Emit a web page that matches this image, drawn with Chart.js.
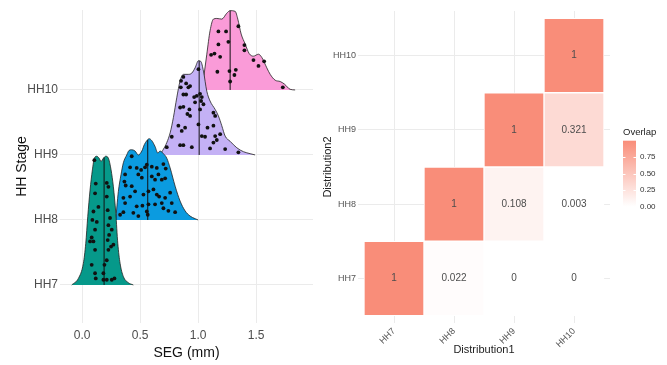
<!DOCTYPE html>
<html><head><meta charset="utf-8">
<script src="https://cdn.jsdelivr.net/npm/chart.js@4"></script>
<style>
html,body{margin:0;padding:0;background:#fff;}
#wrap{position:relative;width:667px;height:365px;overflow:hidden;}
#c1{position:absolute;left:0;top:0;width:320px;height:365px;}
#c2{position:absolute;left:320px;top:0;width:347px;height:365px;}
</style></head><body>
<div id="wrap"><canvas id="c1" width="320" height="365"></canvas><canvas id="c2" width="347" height="365"></canvas></div>
<script>
// ---------------- data ----------------
const stages = ['HH7', 'HH8', 'HH9', 'HH10'];
const segTicks = [0, 0.5, 1.0, 1.5];

// density curves (x in mm, height in ridge units)
const hh7DensX = [-0.089, -0.032, 0.011, 0.032, 0.049, 0.069, 0.089, 0.106, 0.127, 0.147, 0.164, 0.184, 0.204, 0.227, 0.25, 0.27, 0.291, 0.308, 0.328, 0.356, 0.399, 0.442];
const hh7DensH = [0, 0.10, 0.33, 0.64, 1.05, 1.46, 1.77, 1.95, 1.98, 1.95, 1.90, 1.95, 1.98, 1.95, 1.77, 1.51, 1.10, 0.64, 0.33, 0.13, 0.035, 0];
const hh8DensX = [0.29, 0.30, 0.313, 0.336, 0.356, 0.385, 0.405, 0.428, 0.457, 0.485, 0.515, 0.537, 0.558, 0.578, 0.601, 0.629, 0.653, 0.672, 0.701, 0.730, 0.759, 0.802, 0.845, 0.888, 0.931, 0.974, 1.0];
const hh8DensH = [0, 0.20, 0.44, 0.70, 0.88, 1.00, 1.07, 1.08, 1.06, 1.00, 1.06, 1.16, 1.22, 1.25, 1.22, 1.13, 1.03, 1.06, 1.02, 0.95, 0.80, 0.52, 0.29, 0.14, 0.06, 0.02, 0];
const hh9DensX = [0.60, 0.672, 0.701, 0.730, 0.759, 0.787, 0.816, 0.845, 0.873, 0.916, 0.946, 0.974, 1.003, 1.023, 1.046, 1.075, 1.103, 1.147, 1.175, 1.204, 1.233, 1.276, 1.334, 1.391, 1.448, 1.491];
const hh9DensH = [0, 0.02, 0.088, 0.19, 0.34, 0.575, 0.88, 1.14, 1.24, 1.24, 1.26, 1.34, 1.45, 1.44, 1.29, 0.98, 0.83, 0.70, 0.60, 0.45, 0.29, 0.21, 0.11, 0.05, 0.02, 0];
const hh10DensX = [1.034, 1.075, 1.103, 1.132, 1.161, 1.204, 1.247, 1.276, 1.319, 1.342, 1.371, 1.405, 1.44, 1.477, 1.52, 1.549, 1.592, 1.621, 1.664, 1.707, 1.744, 1.793, 1.836];
const hh10DensH = [0, 0.55, 0.91, 1.09, 1.10, 1.09, 1.18, 1.22, 1.21, 1.09, 0.86, 0.71, 0.56, 0.52, 0.55, 0.50, 0.34, 0.24, 0.15, 0.13, 0.09, 0.01, 0];

// medians (mm)
const medians = [0.19, 0.566, 1.009, 1.276];

// jittered observations (x in mm, jitter height in ridge units)
const hh7PtX = [0.106, 0.118, 0.112, 0.227, 0.213, 0.098, 0.089, 0.112, 0.083, 0.098, 0.112, 0.083, 0.112, 0.118, 0.184, 0.193, 0.213, 0.227, 0.221, 0.233, 0.256, 0.227, 0.241, 0.221, 0.184, 0.213, 0.256, 0.279, 0.250, 0.127, 0.141, 0.213, 0.270, 0.069];
const hh7PtJit = [1.92, 1.56, 1.41, 1.51, 1.36, 1.13, 1.00, 0.85, 0.73, 0.67, 0.54, 0.31, 0.18, 0.10, 0.18, 0.31, 0.38, 0.54, 0.69, 0.77, 0.85, 0.92, 1.03, 1.15, 0.08, 0.08, 0.08, 0.10, 0.59, 0.97, 1.20, 1.57, 0.62, 0.67];
const hh8PtX = [0.428, 0.471, 0.414, 0.509, 0.543, 0.558, 0.601, 0.644, 0.701, 0.721, 0.371, 0.365, 0.376, 0.428, 0.485, 0.515, 0.601, 0.629, 0.658, 0.687, 0.716, 0.615, 0.644, 0.664, 0.457, 0.529, 0.572, 0.414, 0.356, 0.371, 0.471, 0.520, 0.572, 0.629, 0.687, 0.716, 0.759, 0.773, 0.701, 0.744, 0.558, 0.566, 0.442, 0.356, 0.328, 0.802, 0.485];
const hh8PtJit = [0.98, 0.80, 0.81, 0.77, 0.81, 0.85, 0.82, 0.80, 0.86, 0.79, 0.70, 0.59, 0.53, 0.52, 0.70, 0.65, 0.67, 0.62, 0.70, 0.62, 0.64, 0.47, 0.39, 0.36, 0.44, 0.39, 0.44, 0.36, 0.34, 0.26, 0.21, 0.22, 0.24, 0.24, 0.26, 0.34, 0.42, 0.26, 0.18, 0.14, 0.13, 0.08, 0.11, 0.12, 0.08, 0.12, 0.06];
const hh9PtX = [0.873, 0.853, 0.897, 0.931, 0.851, 0.916, 0.873, 0.897, 0.966, 0.989, 1.017, 1.032, 0.974, 1.026, 1.046, 0.845, 0.873, 0.925, 1.017, 0.908, 0.931, 1.132, 1.147, 0.830, 0.888, 0.859, 1.003, 1.081, 1.132, 0.773, 1.032, 1.060, 1.147, 1.190, 1.161, 1.132, 0.730, 0.845, 0.873, 0.946, 1.103, 1.233, 1.347, 1.003];
const hh9PtJit = [1.20, 1.14, 1.10, 1.06, 1.04, 1.04, 0.93, 0.93, 0.89, 0.91, 0.94, 0.89, 0.81, 0.83, 0.78, 0.73, 0.74, 0.70, 0.70, 0.63, 0.60, 0.65, 0.60, 0.45, 0.42, 0.37, 0.47, 0.42, 0.45, 0.28, 0.29, 0.28, 0.29, 0.32, 0.23, 0.19, 0.12, 0.15, 0.15, 0.12, 0.10, 0.09, 0.04, 1.32];
const hh10PtX = [1.175, 1.241, 1.347, 1.175, 1.261, 1.112, 1.141, 1.190, 1.399, 1.399, 1.477, 1.520, 1.569, 1.166, 1.270, 1.325, 1.313, 1.276, 1.730];
const hh10PtJit = [0.90, 0.90, 0.98, 0.70, 0.74, 0.54, 0.56, 0.51, 0.69, 0.61, 0.46, 0.37, 0.44, 0.28, 0.29, 0.31, 0.23, 0.13, 0.04];

// overlap matrix (Distribution1 = column, Distribution2 = row)
const overlapCol = ['HH7', 'HH8', 'HH9', 'HH10', 'HH8', 'HH9', 'HH10', 'HH9', 'HH10', 'HH10'];
const overlapRow = ['HH7', 'HH7', 'HH7', 'HH7', 'HH8', 'HH8', 'HH8', 'HH9', 'HH9', 'HH10'];
const overlapVal = [1, 0.022, 0, 0, 1, 0.108, 0.003, 1, 0.321, 1];
const legendTicks = [0, 0.25, 0.5, 0.75];

// ---------------- styles ----------------
const FONT = "'Liberation Sans', Arial, Helvetica, sans-serif";
const ridgeColors = ['#06998A', '#0B9BE0', '#C4B1F5', '#FA9BD8'];
const GRID = '#EBEBEB';
const HIGH = [249, 141, 121];

function tileColor(v) {
  const r = Math.round(255 + (HIGH[0] - 255) * v);
  const g = Math.round(255 + (HIGH[1] - 255) * v);
  const b = Math.round(255 + (HIGH[2] - 255) * v);
  return `rgb(${r},${g},${b})`;
}

function interp(xs, hs, x) {
  for (let i = 1; i < xs.length; i++) {
    if (x <= xs[i]) {
      const t = (x - xs[i - 1]) / (xs[i] - xs[i - 1]);
      return hs[i - 1] + t * (hs[i] - hs[i - 1]);
    }
  }
  return 0;
}

// ---------------- ridgeline chart ----------------
const densX = [hh7DensX, hh8DensX, hh9DensX, hh10DensX];
const densH = [hh7DensH, hh8DensH, hh9DensH, hh10DensH];
const ptX = [hh7PtX, hh8PtX, hh9PtX, hh10PtX];
const ptJit = [hh7PtJit, hh8PtJit, hh9PtJit, hh10PtJit];

const ridgeSets = [];
stages.forEach((s, g) => {
  ridgeSets.push({
    label: s + ' density',
    data: densX[g].map((x, i) => ({x: x, y: g + densH[g][i]})),
    showLine: true,
    fill: {value: g},
    backgroundColor: ridgeColors[g],
    borderColor: '#222',
    borderWidth: 0.8,
    pointRadius: 0,
    cubicInterpolationMode: 'monotone',
    order: g * 3 + 2
  });
  ridgeSets.push({
    label: s + ' median',
    data: [{x: medians[g], y: g}, {x: medians[g], y: g + interp(densX[g], densH[g], medians[g])}],
    showLine: true,
    fill: false,
    borderColor: '#111',
    borderWidth: 1,
    pointRadius: 0,
    order: g * 3 + 1
  });
  ridgeSets.push({
    label: s + ' points',
    data: ptX[g].map((x, i) => ({x: x, y: g + ptJit[g][i]})),
    showLine: false,
    pointRadius: 1.9,
    pointBackgroundColor: '#111',
    pointBorderWidth: 0,
    order: g * 3
  });
});

new Chart(document.getElementById('c1'), {
  type: 'scatter',
  data: {datasets: ridgeSets},
  options: {
    responsive: false,
    animation: false,
    events: [],
    layout: {padding: {top: 10, right: 7, left: 0, bottom: 0}},
    plugins: {legend: {display: false}, tooltip: {enabled: false}},
    scales: {
      x: {
        type: 'linear', min: -0.19, max: 1.99,
        afterBuildTicks: s => { s.ticks = segTicks.map(v => ({value: v})); },
        afterFit: s => { s.height = 42; },
        grid: {color: GRID, lineWidth: 1, drawTicks: false},
        border: {display: false},
        ticks: {padding: 5, maxRotation: 0, color: '#4D4D4D', font: {size: 12, family: FONT},
                callback: v => Number(v).toFixed(1)},
        title: {display: true, text: 'SEG (mm)', color: '#111', font: {size: 14, family: FONT},
                padding: {top: 0, bottom: 3.6}}
      },
      y: {
        type: 'linear', min: -0.585, max: 4.23,
        afterBuildTicks: s => { s.ticks = stages.map((_, i) => ({value: i})); },
        afterFit: s => { s.width = 60; },
        grid: {color: GRID, lineWidth: 1, drawTicks: false},
        border: {display: false},
        ticks: {padding: 2, color: '#4D4D4D', font: {size: 12, family: FONT},
                callback: v => stages[v]},
        title: {display: true, text: 'HH Stage', color: '#111', font: {size: 14, family: FONT},
                padding: {top: 13.6, bottom: 0}}
      }
    }
  }
});

// ---------------- heatmap ----------------
const colIdx = overlapCol.map(c => stages.indexOf(c));
const rowIdx = overlapRow.map(r => stages.indexOf(r));

const tileText = {
  id: 'tileText',
  afterDatasetsDraw(chart) {
    const meta = chart.getDatasetMeta(0);
    const ctx = chart.ctx;
    ctx.save();
    ctx.font = '10px ' + FONT;
    ctx.fillStyle = '#4D4D4D';
    ctx.textAlign = 'center';
    ctx.textBaseline = 'middle';
    meta.data.forEach((el, i) => {
      ctx.fillText(String(overlapVal[i]), el.x, (el.y + el.base) / 2);
    });
    ctx.restore();
  }
};

const colorBar = {
  id: 'colorBar',
  afterDraw(chart) {
    const ctx = chart.ctx;
    const a = chart.chartArea;
    const x0 = a.right + 13, w = 13;
    const cy = (a.top + a.bottom) / 2;
    const yTop = cy - 26.3, yBot = cy + 39.7;
    const vy = v => yBot - v * (yBot - yTop);
    ctx.save();
    ctx.font = '9.5px ' + FONT;
    ctx.fillStyle = '#222';
    ctx.textAlign = 'left';
    ctx.textBaseline = 'middle';
    ctx.fillText('Overlap', x0, yTop - 8);
    const grad = ctx.createLinearGradient(0, yBot, 0, yTop);
    for (let k = 0; k <= 10; k++) grad.addColorStop(k / 10, tileColor(k / 10));
    ctx.fillStyle = grad;
    ctx.fillRect(x0, yTop, w, yBot - yTop);
    ctx.strokeStyle = '#fff';
    ctx.lineWidth = 1;
    ctx.font = '8px ' + FONT;
    ctx.fillStyle = '#333';
    legendTicks.forEach(v => {
      const y = Math.round(vy(v)) + 0.5;
      ctx.beginPath();
      ctx.moveTo(x0, y); ctx.lineTo(x0 + 2.5, y);
      ctx.moveTo(x0 + w - 2.5, y); ctx.lineTo(x0 + w, y);
      ctx.stroke();
      ctx.fillText(v.toFixed(2), x0 + w + 4, vy(v));
    });
    ctx.restore();
  }
};

new Chart(document.getElementById('c2'), {
  type: 'bar',
  data: {
    datasets: [{
      label: 'Overlap',
      data: overlapVal.map((v, i) => ({x: colIdx[i], y: [rowIdx[i] - 0.5, rowIdx[i] + 0.5]})),
      backgroundColor: overlapVal.map(tileColor),
      borderColor: '#ffffff',
      borderWidth: 1,
      borderSkipped: false,
      barPercentage: 1,
      categoryPercentage: 1
    }]
  },
  options: {
    responsive: false,
    animation: false,
    events: [],
    layout: {padding: {top: 11, right: 57, left: 0, bottom: 0}},
    plugins: {legend: {display: false}, tooltip: {enabled: false}},
    scales: {
      x: {
        type: 'linear', min: -0.6, max: 3.6, offset: false,
        afterBuildTicks: s => { s.ticks = stages.map((_, i) => ({value: i})); },
        afterFit: s => { s.height = 42; },
        grid: {color: GRID, lineWidth: 1, drawTicks: false, offset: false},
        border: {display: false},
        ticks: {padding: 3, autoSkip: false, minRotation: 45, maxRotation: 45, color: '#555',
                font: {size: 9, family: FONT}, callback: v => stages[v]},
        title: {display: true, text: 'Distribution1', color: '#222', font: {size: 11, family: FONT},
                padding: {top: 0, bottom: 8.4}}
      },
      y: {
        type: 'linear', min: -0.6, max: 3.6, beginAtZero: false,
        afterBuildTicks: s => { s.ticks = stages.map((_, i) => ({value: i})); },
        afterFit: s => { s.width = 38; },
        grid: {color: GRID, lineWidth: 1, drawTicks: false},
        border: {display: false},
        ticks: {padding: 2, color: '#555', font: {size: 9, family: FONT}, callback: v => stages[v]},
        title: {display: true, text: 'Distribution2', color: '#222', font: {size: 11, family: FONT},
                padding: {top: 1.4, bottom: 0}}
      }
    }
  },
  plugins: [tileText, colorBar]
});
</script>
</body></html>
